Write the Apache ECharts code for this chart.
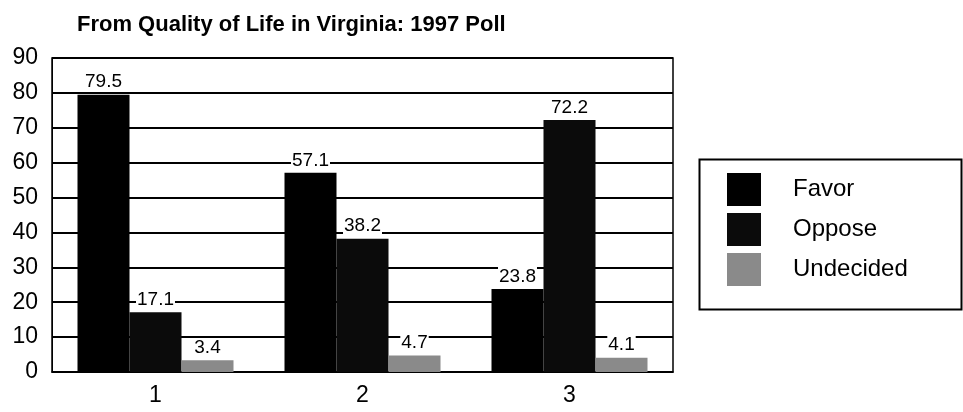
<!DOCTYPE html>
<html>
<head>
<meta charset="utf-8">
<script src="https://cdn.jsdelivr.net/npm/echarts@6/dist/echarts.min.js"></script>
<style>html,body{margin:0;padding:0;background:#fff;}#c{width:963px;height:412px;}</style>
</head>
<body>
<div id="c"></div>
<script>
const titleText = 'From Quality of Life in Virginia: 1997 Poll';
const categories = ['1', '2', '3'];
const favor = [79.5, 57.1, 23.8];
const oppose = [17.1, 38.2, 72.2];
const undecided = [3.4, 4.7, 4.1];
const seriesNames = ['Favor', 'Oppose', 'Undecided'];
const yTicks = [0, 10, 20, 30, 40, 50, 60, 70, 80, 90];

const chart = echarts.init(document.getElementById('c'), null, {renderer: 'canvas'});
const font = 'Liberation Sans, Arial, sans-serif';
const labelCfg = {
  show: true, position: 'top', distance: 3, color: '#000', fontSize: 19,
  fontFamily: font, backgroundColor: '#fff', padding: [0, 1, 0, 1],
  formatter: p => p.value.toFixed(1)
};
const colors = ['#000000', '#0b0b0b', '#8a8a8a'];
const datas = [favor, oppose, undecided];
chart.setOption({
  animation: false,
  backgroundColor: '#fff',
  title: {
    text: titleText, left: 72, top: 9,
    textStyle: {fontSize: 22, fontWeight: 'bold', color: '#000', fontFamily: font}
  },
  grid: {left: 52, right: 290, top: 58, bottom: 40, show: true, borderColor: '#000', borderWidth: 1.5},
  legend: {
    orient: 'vertical', left: 727, top: 173, padding: 0,
    itemWidth: 34, itemHeight: 33, itemGap: 7,
    icon: 'rect',
    textStyle: {fontSize: 24, color: '#000', fontFamily: font, padding: [0, 0, 0, 27]},
    data: seriesNames
  },
  graphic: [{
    type: 'rect', left: 697, top: 157,
    shape: {width: 262, height: 150},
    style: {fill: 'none', stroke: '#000', lineWidth: 2}
  }],
  xAxis: {
    type: 'category', data: categories,
    axisLine: {show: true, lineStyle: {color: '#000', width: 1.5}},
    axisTick: {show: false},
    axisLabel: {color: '#000', fontSize: 23, margin: 12, fontFamily: font}
  },
  yAxis: {
    type: 'value', min: 0, max: 90, interval: 10,
    axisLine: {show: true, lineStyle: {color: '#000', width: 1}},
    axisTick: {show: false},
    axisLabel: {color: '#000', fontSize: 23, margin: 14, fontFamily: font,
      formatter: v => yTicks.includes(v) ? String(v) : ''},
    splitLine: {show: true, lineStyle: {color: '#000', width: 2}}
  },
  series: seriesNames.map((n, i) => ({
    name: n, type: 'bar', data: datas[i],
    barWidth: 52, barGap: '0%',
    itemStyle: {color: colors[i]},
    label: labelCfg
  }))
});
</script>
</body>
</html>
